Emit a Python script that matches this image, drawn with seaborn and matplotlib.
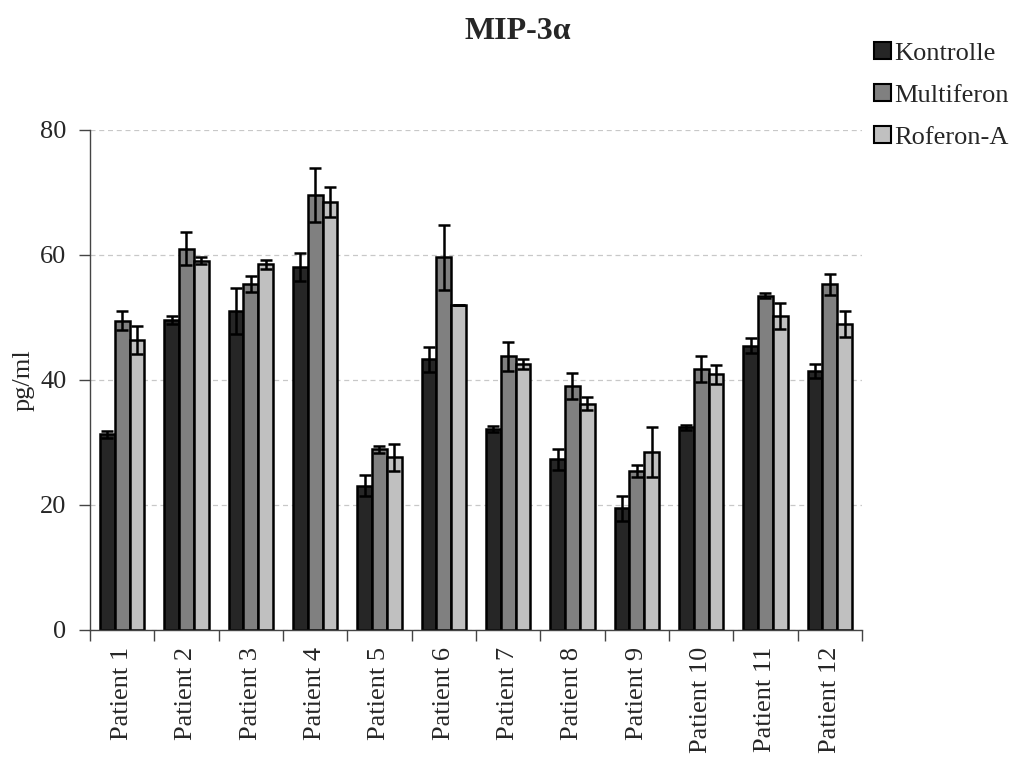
import numpy as np
import pandas as pd
import matplotlib
matplotlib.use("Agg")
import matplotlib.pyplot as plt
from matplotlib.patches import Patch
import seaborn as sns

# MIP-3alpha concentrations (pg/ml) per patient and treatment, mean and error
patients = [f"Patient {i}" for i in range(1, 13)]
groups = ["Kontrolle", "Multiferon", "Roferon-A"]

kontrolle = [31.3, 49.6, 51.0, 58.1, 23.1, 43.3, 32.2, 27.3, 19.5, 32.4, 45.5, 41.4]
kontrolle_err = [0.6, 0.6, 3.7, 2.2, 1.7, 2.0, 0.5, 1.7, 2.0, 0.4, 1.2, 1.1]

multiferon = [49.5, 61.0, 55.3, 69.6, 28.9, 59.6, 43.8, 39.0, 25.4, 41.7, 53.5, 55.3]
multiferon_err = [1.5, 2.6, 1.3, 4.3, 0.6, 5.2, 2.3, 2.1, 1.0, 2.1, 0.4, 1.7]

roferon = [46.4, 59.1, 58.5, 68.5, 27.6, 52.0, 42.6, 36.2, 28.4, 40.9, 50.2, 49.0]
roferon_err = [2.3, 0.6, 0.7, 2.4, 2.2, 0.0, 0.8, 1.0, 4.0, 1.5, 2.1, 2.1]

colors = ["#262626", "#808080", "#c0c0c0"]

df = pd.DataFrame({
    "Patient": patients * 3,
    "Gruppe": [g for g in groups for _ in patients],
    "Wert": kontrolle + multiferon + roferon,
})
errors = [kontrolle_err, multiferon_err, roferon_err]

sns.set_style("white")
plt.rcParams["font.family"] = ["Liberation Serif", "DejaVu Serif"]

fs = 19

fig = plt.figure(figsize=(10.19, 7.58), dpi=100)
ax = fig.add_axes([0.0883, 0.1689, 0.7576, 0.6596])

sns.barplot(data=df, x="Patient", y="Wert", hue="Gruppe", order=patients,
            hue_order=groups, palette=colors, errorbar=None, width=0.69,
            edgecolor="black", linewidth=1.8, saturation=1, ax=ax, legend=False)

for cont, err in zip(ax.containers, errors):
    xs = [b.get_x() + b.get_width() / 2 for b in cont]
    ys = [b.get_height() for b in cont]
    ax.errorbar(xs, ys, yerr=err, fmt="none", ecolor="black",
                elinewidth=1.8, capsize=4, capthick=1.8, zorder=5)

ax.set_xlim(-0.5, 11.5)
ax.set_ylim(0, 80)
ax.set_yticks([0, 20, 40, 60, 80])
ax.yaxis.grid(True, linestyle=(0, (4, 3)), color="#c8c8c8", linewidth=0.9)
ax.set_axisbelow(True)

ax.set_xticks(np.arange(12))
ax.set_xticklabels(patients, rotation=90, fontsize=fs)
ax.set_xticks(np.arange(-0.5, 12, 1), minor=True)
ax.tick_params(axis="x", which="major", length=0, pad=12)
ax.tick_params(axis="x", which="minor", length=8, width=1, color="#444444",
               direction="out", bottom=True)
ax.tick_params(axis="y", length=8, width=1, color="#444444", direction="out",
               left=True, labelsize=fs, pad=9)

for s in ["top", "right"]:
    ax.spines[s].set_visible(False)
for s in ["left", "bottom"]:
    ax.spines[s].set_color("#444444")
    ax.spines[s].set_linewidth(1)

ax.set_xlabel("")
ax.set_ylabel("pg/ml", fontsize=fs, labelpad=4)

fig.suptitle("MIP-3α", fontsize=23, fontweight="bold", x=0.508, y=0.977)

handles = [Patch(facecolor=c, edgecolor="black", linewidth=1.5) for c in colors]
fig.legend(handles, groups, loc="upper left", bbox_to_anchor=(0.858, 0.945),
           frameon=False, fontsize=fs, handlelength=0.65, handleheight=0.65,
           handletextpad=0.1, labelspacing=0.72, borderaxespad=0,
           borderpad=0)

fig.savefig("out.png", dpi=100)
